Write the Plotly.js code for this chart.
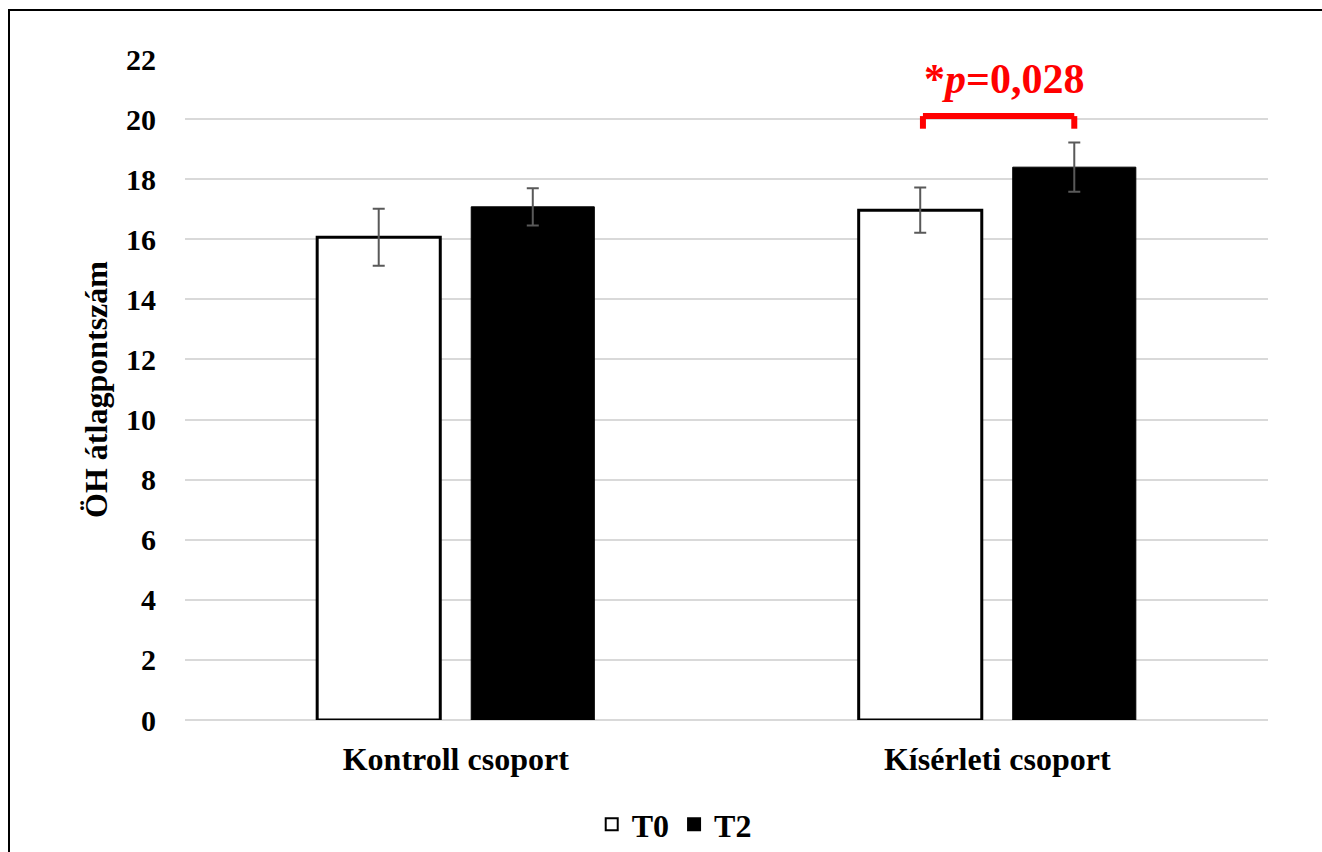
<!DOCTYPE html>
<html>
<head>
<meta charset="utf-8">
<script src="https://cdn.plot.ly/plotly-3.0.1.min.js"></script>
<style>
  html, body { margin: 0; padding: 0; background: #fff; }
  #wrap { position: relative; width: 1322px; height: 852px; overflow: hidden; }
  #chart { width: 1322px; height: 852px; }
  #frame { position: absolute; left: 8px; top: 9px; width: 1330px; height: 860px;
           border-left: 2px solid #000; border-top: 2px solid #000; pointer-events: none; }
</style>
</head>
<body>
<div id="wrap">
  <div id="chart"></div>
  <div id="frame"></div>
</div>
<script>
// Data
const categories = ["Kontroll csoport", "Kísérleti csoport"];
const seriesNames = ["T0", "T2"];
const t0Values = [16.07, 16.97];
const t0Errors = [0.95, 0.75];
const t2Values = [17.08, 18.40];
const t2Errors = [0.62, 0.82];
const yTicks = [0, 2, 4, 6, 8, 10, 12, 14, 16, 18, 20, 22];
const yTitle = "ÖH átlagpontszám";
const sigLabel = "*<i>p</i>=0,028";
const sigCategoryIndex = 1;

const FONT = '"Liberation Serif", "Times New Roman", serif';
const bargap = 0.431;
const bargroupgap = 0.201;

const traces = [
  {
    type: 'bar', name: seriesNames[0], x: categories, y: t0Values,
    marker: { color: '#ffffff', line: { color: '#000000', width: 3 } },
    error_y: { type: 'data', array: t0Errors, visible: true, color: '#595959', thickness: 2, width: 6 }
  },
  {
    type: 'bar', name: seriesNames[1], x: categories, y: t2Values,
    marker: { color: '#000000', line: { color: '#000000', width: 1 } },
    error_y: { type: 'data', array: t2Errors, visible: true, color: '#595959', thickness: 2, width: 6 }
  }
];

// bracket between the two bars of the significant group
const off = (1 - bargap) / 4;
const bx0 = sigCategoryIndex - off + 0.005, bx1 = sigCategoryIndex + off;
const bTop = 20.1, bLow = 19.68;
const red = '#ff0000';
const shapes = [
  { type: 'line', xref: 'x', yref: 'y', x0: bx0, x1: bx1, y0: bTop, y1: bTop, line: { color: red, width: 6 } },
  { type: 'line', xref: 'x', yref: 'y', x0: bx0, x1: bx0, y0: bLow, y1: bTop, line: { color: red, width: 6 } },
  { type: 'line', xref: 'x', yref: 'y', x0: bx1, x1: bx1, y0: bLow, y1: bTop, line: { color: red, width: 6 } }
];

const layout = {
  width: 1322, height: 852,
  margin: { l: 185, r: 54, t: 59, b: 132 },
  paper_bgcolor: '#ffffff', plot_bgcolor: '#ffffff',
  font: { family: FONT, color: '#000000' },
  barmode: 'group', bargap: bargap, bargroupgap: bargroupgap,
  showlegend: true,
  legend: {
    orientation: 'h', xref: 'container', x: 0.51, xanchor: 'center',
    yref: 'container', y: 0.0, yanchor: 'bottom',
    font: { family: FONT, size: 32, color: '#000', weight: 'bold' },
    itemwidth: 30, itemsizing: 'constant', traceorder: 'normal'
  },
  xaxis: {
    type: 'category', showgrid: false, zeroline: false, showline: false,
    ticks: '', tickfont: { family: FONT, size: 32, color: '#000', weight: 'bold' },
    ticklabelstandoff: 17
  },
  yaxis: {
    range: [0, 22], tickvals: yTicks, ticktext: yTicks.map(String),
    showgrid: true, gridcolor: '#d9d9d9', gridwidth: 2,
    zeroline: true, zerolinecolor: '#d9d9d9', zerolinewidth: 2,
    showline: false, ticks: '',
    tickfont: { family: FONT, size: 30, color: '#000', weight: 'bold' },
    ticklabelstandoff: 28,
    title: { text: yTitle, font: { family: FONT, size: 32, color: '#000', weight: 'bold' }, standoff: 8 }
  },
  shapes: shapes,
  annotations: [
    { xref: 'x', yref: 'y', x: sigCategoryIndex + 0.013, y: 20.5, xanchor: 'center', yanchor: 'bottom',
      text: sigLabel, showarrow: false,
      font: { family: FONT, size: 42, color: red, weight: 'bold' } }
  ]
};

Plotly.newPlot('chart', traces, layout, { displayModeBar: false, staticPlot: true });
</script>
</body>
</html>
